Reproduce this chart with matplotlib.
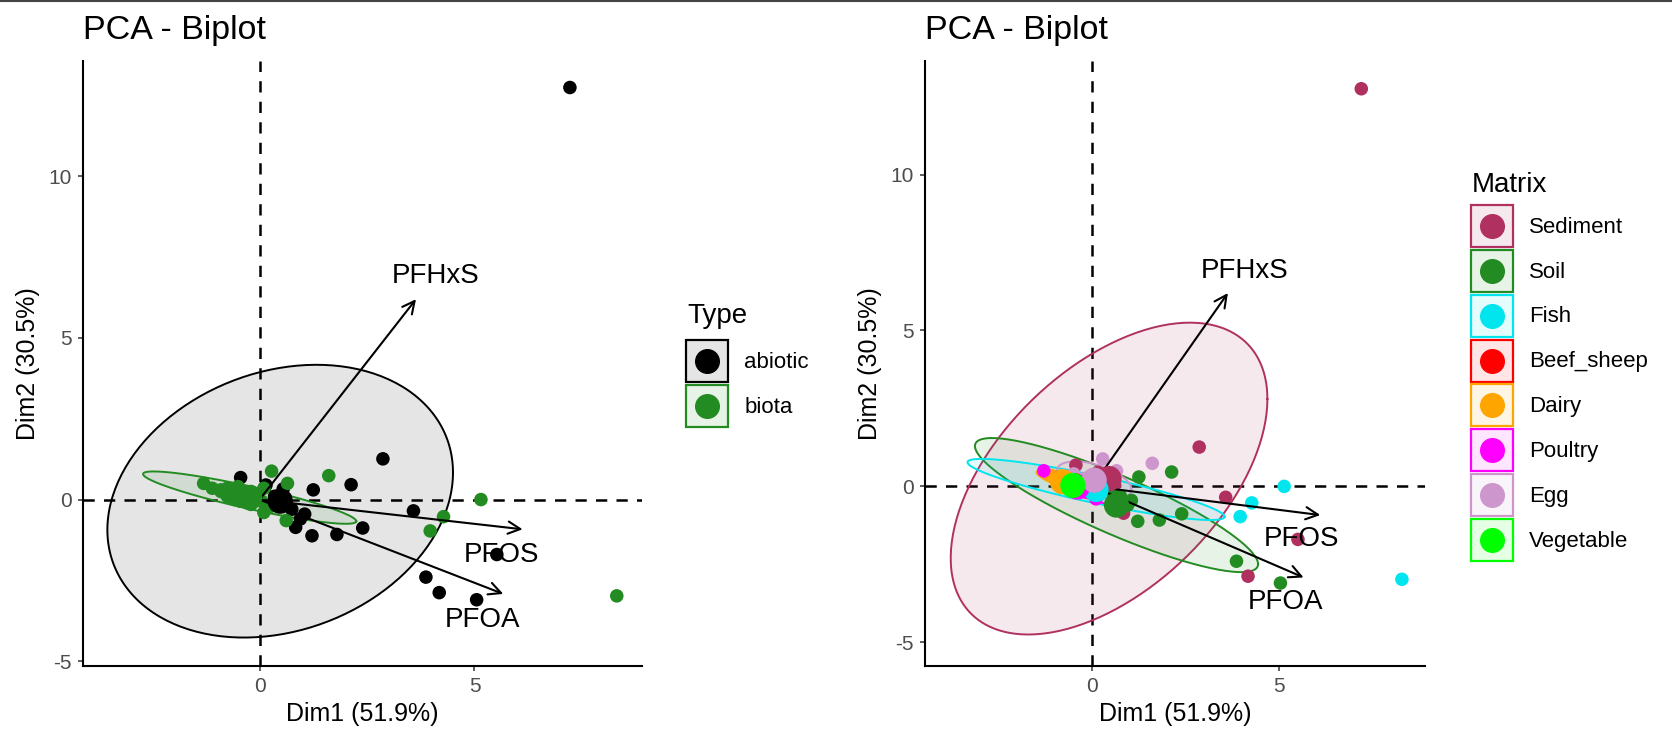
import numpy as np
import matplotlib.pyplot as plt
from matplotlib.patches import Rectangle
from matplotlib.lines import Line2D
from matplotlib.legend_handler import HandlerBase
from matplotlib.colors import to_rgba

plt.rcParams['font.family'] = ['Liberation Sans', 'DejaVu Sans']
plt.rcParams['axes.unicode_minus'] = False

# individual scores on the first two components
dim1 = [7.22, 2.87, 3.58, 5.52, 4.18, -0.44, 0.55, 0.84, 0.35, 0.15, 0.60,
        2.13, 2.40, 1.80, 1.22, 1.25, 3.87, 5.05, 0.95, 0.75, 1.05, 0.50,
        5.15, 4.28, 3.97, 8.31, 0.20, 0.62, -0.35, 0.05, -0.75,
        -0.55, -0.35, -0.70, -0.45,
        -0.90, -0.75, -1.10, -0.60,
        -1.30, -0.60, 0.10, -0.20, -0.90,
        1.61, 0.28, 0.65, 0.10, -0.20, -0.50,
        -0.60, -0.45, -0.50, -0.58, -0.80]
dim2 = [12.75, 1.26, -0.35, -1.70, -2.88, 0.68, 0.33, -0.86, 0.10, 0.45, 0.05,
        0.46, -0.88, -1.08, -1.12, 0.30, -2.40, -3.10, -0.60, -0.30, -0.45, -0.15,
        0.00, -0.53, -0.97, -2.98, -0.26, -0.65, 0.15, -0.05, 0.35,
        0.15, -0.05, 0.25, 0.05,
        0.25, 0.10, 0.35, 0.12,
        0.50, 0.05, -0.40, -0.15, 0.30,
        0.74, 0.88, 0.50, 0.35, 0.25, 0.40,
        0.12, -0.05, 0.05, 0.00, 0.20]
matrix = (['Sediment'] * 11 + ['Soil'] * 11 + ['Fish'] * 9 + ['Beef_sheep'] * 4
          + ['Dairy'] * 4 + ['Poultry'] * 5 + ['Egg'] * 6 + ['Vegetable'] * 5)
abiotic = ['Sediment', 'Soil']
sample_type = ['abiotic' if m in abiotic else 'biota' for m in matrix]

# variable loadings and label positions
variables = ['PFHxS', 'PFOS', 'PFOA']
var_dim1 = [3.64, 6.12, 5.67]
var_dim2 = [6.20, -0.92, -2.92]
lab_dim1 = [4.10, 5.62, 5.18]
lab_dim2 = [6.92, -1.70, -3.72]

# groups: colour, mean point and concentration ellipse (sd x, sd y, correlation)
type_levels = ['abiotic', 'biota']
type_colors = ['#000000', '#228B22']
type_mean_x = [0.48, -0.23]
type_mean_y = [-0.05, 0.06]
type_sd_x = [4.02, 2.48]
type_sd_y = [4.22, 0.81]
type_corr = [0.21, -0.90]

matrix_levels = ['Sediment', 'Soil', 'Fish', 'Beef_sheep', 'Dairy',
                 'Poultry', 'Egg', 'Vegetable']
matrix_colors = ['#B03060', '#228B22', '#00E5EE', '#FF0000', '#FFA500',
                 '#FF00FF', '#CD96CD', '#00FF00']
matrix_mean_x = [0.45, 0.65, 0.10, -0.48, -0.80, -0.40, 0.05, -0.52]
matrix_mean_y = [0.25, -0.60, -0.10, 0.02, 0.15, -0.02, 0.20, 0.03]
matrix_sd_x = [4.25, 3.80, 3.45, 0.55, 0.70, 1.00, 1.00, 0.60]
matrix_sd_y = [5.00, 2.15, 0.98, 0.38, 0.35, 0.55, 0.60, 0.30]
matrix_corr = [0.51, -0.88, -0.89, -0.60, -0.85, -0.90, -0.50, -0.80]

W, H = 1672, 745
fig = plt.figure(figsize=(W / 100, H / 100), dpi=100)


def fx(px):
    return px / W


def fy(py):
    return 1 - py / H


def ellipse_xy(cx, cy, sx, sy, r, n=240):
    cov = np.array([[sx ** 2, r * sx * sy], [r * sx * sy, sy ** 2]])
    L = np.linalg.cholesky(cov)
    t = np.linspace(0, 2 * np.pi, n)
    pts = L @ np.vstack([np.cos(t), np.sin(t)])
    return cx + pts[0], cy + pts[1]


class KeyHandler(HandlerBase):
    """square key with the group fill/outline and a dot in the middle"""
    def create_artists(self, legend, orig_handle, xdescent, ydescent,
                       width, height, fontsize, trans):
        color = orig_handle.get_edgecolor()
        box = Rectangle((-xdescent, -ydescent), width, height,
                        facecolor=orig_handle.get_facecolor(),
                        edgecolor=color, lw=1.6, transform=trans)
        dot = Line2D([-xdescent + width / 2], [-ydescent + height / 2],
                     marker='o', ls='', color=color, markersize=17,
                     transform=trans)
        return [box, dot]


def biplot(rect, groups, levels, colors, mx, my, sdx, sdy, corr,
           xlim, ylim, legend_title, key_x, key_top, title_base):
    ax = fig.add_axes(rect)
    ax.set_xlim(*xlim)
    ax.set_ylim(*ylim)

    dash = (0, (4.5, 3.7))
    ax.axhline(0, color='black', lw=1.8, ls=dash, zorder=1)
    ax.axvline(0, color='black', lw=1.8, ls=dash, zorder=1)

    for i, lev in enumerate(levels):
        ex, ey = ellipse_xy(mx[i], my[i], sdx[i], sdy[i], corr[i])
        ax.fill(ex, ey, facecolor=to_rgba(colors[i], 0.1), edgecolor='none', zorder=2)
        ax.plot(ex, ey, color=colors[i], lw=1.4, zorder=2)

    cmap = dict(zip(levels, colors))
    ax.scatter(dim1, dim2, c=[cmap[g] for g in groups], s=95,
               linewidths=0, zorder=3)

    for name, vx, vy, lx, ly in zip(variables, var_dim1, var_dim2, lab_dim1, lab_dim2):
        ax.annotate('', xy=(vx, vy), xytext=(0, 0),
                    arrowprops=dict(arrowstyle='->', lw=1.5, color='black',
                                    shrinkA=0, shrinkB=0, mutation_scale=22),
                    zorder=4)
        ax.text(lx, ly, name, fontsize=20, ha='center', va='center', zorder=4)

    # group mean points
    ax.scatter(mx, my, c=colors, s=330, linewidths=0, zorder=5)

    for side in ['top', 'right']:
        ax.spines[side].set_visible(False)
    for side in ['left', 'bottom']:
        ax.spines[side].set_linewidth(1.5)
    ax.set_xticks([0, 5])
    ax.set_yticks([-5, 0, 5, 10])
    ax.tick_params(labelsize=15, labelcolor='#4D4D4D', color='#333333',
                   length=3.6, width=1.1, pad=4.5)
    ax.set_xlabel('Dim1 (51.9%)', fontsize=18, labelpad=4)
    ax.set_ylabel('Dim2 (30.5%)', fontsize=18, labelpad=6)
    ax.set_title('PCA - Biplot', loc='left', fontsize=24.5, pad=16)

    handles = [Rectangle((0, 0), 1, 1, facecolor=to_rgba(c, 0.1), edgecolor=c)
               for c in colors]
    ax.legend(handles, levels, handler_map={Rectangle: KeyHandler()},
              loc='upper left', bbox_to_anchor=(fx(key_x), fy(key_top)),
              bbox_transform=fig.transFigure, frameon=False, fontsize=16,
              handlelength=1.9, handleheight=2.53, handletextpad=0.72,
              labelspacing=0.129, borderpad=0, borderaxespad=0)
    fig.text(fx(key_x + 1), fy(title_base), legend_title,
             fontsize=20, va='baseline', ha='left')
    return ax


left_rect = [fx(83.3), fy(666), fx(641.7) - fx(83.3), (666 - 61) / H]
right_rect = [fx(925), fy(666), fx(1425) - fx(925), (666 - 61) / H]

biplot(left_rect, sample_type, type_levels, type_colors, type_mean_x, type_mean_y,
       type_sd_x, type_sd_y, type_corr, (-4.10, 8.89), (-5.15, 13.57),
       'Type', 686, 340, 323)
biplot(right_rect, matrix, matrix_levels, matrix_colors, matrix_mean_x, matrix_mean_y,
       matrix_sd_x, matrix_sd_y, matrix_corr, (-4.49, 8.93), (-5.76, 13.64),
       'Matrix', 1471, 205, 191.6)

# thin frame line along the top edge
fig.add_artist(Line2D([0, 1], [fy(1), fy(1)], transform=fig.transFigure,
                      color='#444444', lw=1.5))

fig.savefig('out.png', dpi=100, facecolor='white')
